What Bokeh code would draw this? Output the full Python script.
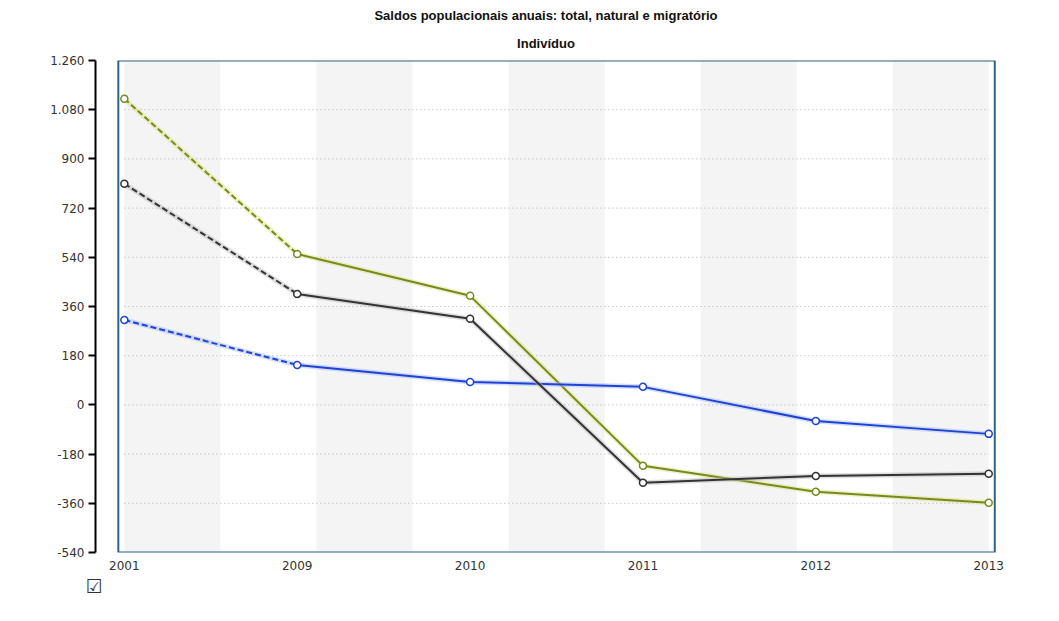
import numpy as np
from bokeh.plotting import figure
from bokeh.models import (Range1d, LinearAxis, FixedTicker, BoxAnnotation, Legend,
                          LegendItem, Title)
from bokeh.embed import file_html
from bokeh.resources import INLINE

# ---------------- data ----------------
years = ["2001", "2009", "2010", "2011", "2012", "2013"]
saldo_total = [1120, 552, 399, -223, -318, -358]
saldo_natural = [311, 146, 84, 66, -59, -106]
saldo_migratorio = [809, 406, 315, -285, -260, -252]
y_ticks = [-540, -360, -180, 0, 180, 360, 540, 720, 900, 1080, 1260]

series_names = ["Viseu (Município) - Saldo total",
                "Viseu (Município) - Saldo natural",
                "Viseu (Município) - Saldo migratório"]

# ---------------- styles ----------------
colors = ["#77891f", "#1f44d4", "#333333"]
glow = ["#d9e27f", "#9fb6f5", "#b5b5b5"]
frame_color = "#2d6481"
band_color = "#f4f4f4"
FONT = "DejaVu Sans"

n = len(years)
xs = list(range(n))
Y0, Y1 = y_ticks[0], y_ticks[-1]

p = figure(frame_width=901, frame_height=492, output_backend="svg", toolbar_location=None,
           x_axis_type=None, y_axis_type=None,
           x_range=Range1d(-0.167, (n - 1) + 0.045), y_range=Range1d(Y0, Y1),
           min_border_left=95, min_border_right=55, min_border_top=60,
           min_border_bottom=60)
p.outline_line_color = None
p.xgrid.visible = False
p.ygrid.visible = False
p.background_fill_color = "white"
p.border_fill_color = "white"

# alternating bands: 9 equal bands across the category span
nb = 9
edges = np.linspace(0, n - 1, nb + 1)
p.quad(left=edges[:-1][::2], right=edges[1:][::2], bottom=Y0, top=Y1,
       fill_color=band_color, line_color=None, level="underlay")

# dotted gridlines
grid_vals = y_ticks[1:-1]
p.segment(x0=[0] * len(grid_vals), x1=[n - 1] * len(grid_vals), y0=grid_vals, y1=grid_vals,
          line_color="#b0b0b0", line_width=1, line_dash="1 3")

# frame box
p.add_layout(BoxAnnotation(left=-0.035, right=(n - 1) + 0.035, top=Y1, bottom=Y0,
                           fill_alpha=0, line_color=frame_color, line_alpha=1.0,
                           line_width=2))

# axes
xaxis = LinearAxis(ticker=FixedTicker(ticks=xs),
                   major_label_overrides={i: y for i, y in enumerate(years)})
xaxis.axis_line_color = None
xaxis.major_tick_line_color = None
xaxis.minor_tick_line_color = None
xaxis.major_label_text_font = FONT
xaxis.major_label_text_font_size = "12px"
xaxis.major_label_text_color = "#333333"
xaxis.major_label_standoff = 2
p.add_layout(xaxis, "below")


def fmt(v):
    s = f"{abs(v):,}".replace(",", ".")
    return ("-" if v < 0 else "") + s


yaxis = LinearAxis(ticker=FixedTicker(ticks=y_ticks),
                   major_label_overrides={v: fmt(v) for v in y_ticks})
yaxis.axis_line_color = "black"
yaxis.axis_line_width = 2
yaxis.major_tick_line_color = "black"
yaxis.major_tick_line_width = 2
yaxis.major_tick_out = 7
yaxis.major_tick_in = 0
yaxis.minor_tick_line_color = None
yaxis.major_label_text_font = FONT
yaxis.major_label_text_font_size = "12px"
yaxis.major_label_text_color = "#333333"
yaxis.major_label_standoff = 4
p.add_layout(yaxis, "left")

# series
items = []
for vals, c, g, name in zip([saldo_total, saldo_natural, saldo_migratorio], colors, glow, series_names):
    p.line(xs, vals, line_color=g, line_width=5, line_alpha=0.45)
    p.line(xs[:2], vals[:2], line_color=c, line_width=2, line_dash="6 3")
    r_line = p.line(xs[1:], vals[1:], line_color=c, line_width=2)
    r_pts = p.scatter(xs, vals, marker="circle", size=7, fill_color="white",
                      line_color=c, line_width=1.5)
    items.append(LegendItem(label=name, renderers=[r_line, r_pts]))

# checkbox decoration just under the axis origin
p.add_layout(Title(text="☑", align="left", offset=-10, text_font=FONT,
                   text_font_size="19px", text_font_style="normal",
                   text_color="#333333", standoff=0), "below")

legend = Legend(items=items, orientation="horizontal", location="top_left",
                label_text_font=FONT, label_text_font_size="13px",
                label_text_color="#555555", glyph_width=14, glyph_height=10,
                label_height=14, spacing=65, padding=0, margin=0,
                border_line_color=None, background_fill_alpha=0, label_standoff=18)
p.add_layout(legend, "below")

# titles
p.add_layout(Title(text="Indivíduo", align="center", text_font="Liberation Sans",
                   text_font_size="13px", text_font_style="bold", text_color="#111111",
                   standoff=19), "above")
p.add_layout(Title(text="Saldos populacionais anuais: total, natural e migratório",
                   align="center", text_font="Liberation Sans", text_font_size="13px",
                   text_font_style="bold", text_color="#111111", standoff=3), "above")

open("out.html", "w").write(file_html(p, INLINE))
